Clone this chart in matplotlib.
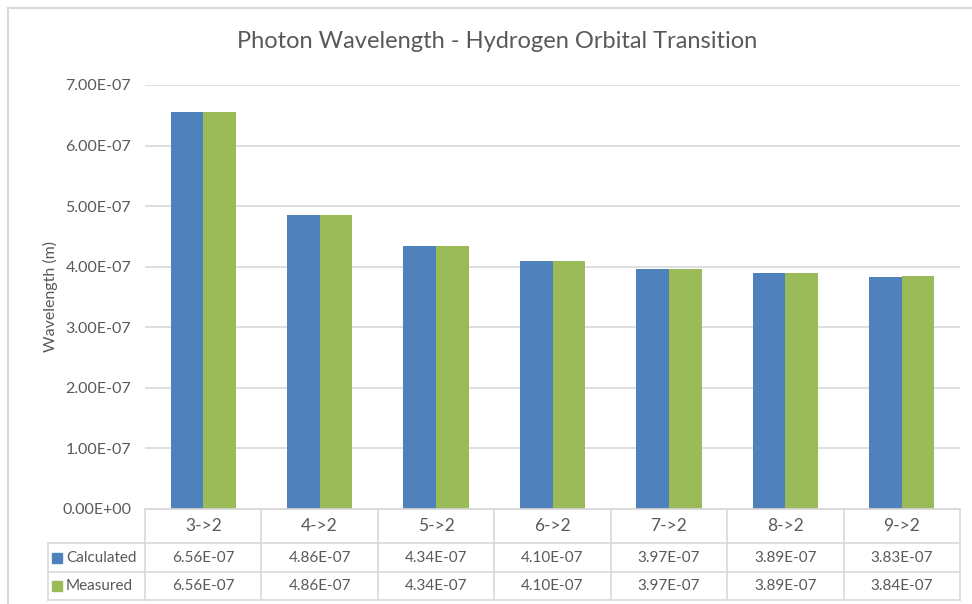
import matplotlib
matplotlib.use('Agg')
import matplotlib.pyplot as plt
import matplotlib.transforms as mtransforms
from matplotlib.lines import Line2D
from matplotlib.patches import Rectangle
import numpy as np

# data
transitions = ['3->2', '4->2', '5->2', '6->2', '7->2', '8->2', '9->2']
calculated = [6.56e-07, 4.86e-07, 4.34e-07, 4.10e-07, 3.97e-07, 3.89e-07, 3.83e-07]
measured = [6.56e-07, 4.86e-07, 4.34e-07, 4.10e-07, 3.97e-07, 3.89e-07, 3.84e-07]
series_names = ['Calculated', 'Measured']
yticks = [0, 1e-07, 2e-07, 3e-07, 4e-07, 5e-07, 6e-07, 7e-07]

c_blue = '#4F81BD'
c_green = '#9BBB59'
c_text = '#595959'
c_line = '#D9D9D9'

plt.rcParams['font.family'] = ['Lato', 'DejaVu Sans']

W, H = 972, 604
fig = plt.figure(figsize=(W / 100, H / 100), dpi=100)
ax = fig.add_axes([145 / W, 1 - 509 / H, (960 - 145) / W, (509 - 85) / H])

x = np.arange(len(transitions))
bw = 0.28
ax.bar(x - bw / 2, calculated, bw, color=c_blue, zorder=3)
ax.bar(x + bw / 2, measured, bw, color=c_green, zorder=3)

ax.set_xlim(-0.5, len(transitions) - 0.5)
ax.set_ylim(0, 7e-07)
ax.set_yticks(yticks)
ax.set_yticklabels(['%.2E' % v for v in yticks], fontsize=11.5, color=c_text)
ax.set_xticks([])
ax.tick_params(axis='y', length=0, pad=10)
ax.yaxis.grid(True, color=c_line, lw=1.2, zorder=0)
for s in ['top', 'right', 'left']:
    ax.spines[s].set_visible(False)
ax.spines['bottom'].set_color(c_line)
ax.spines['bottom'].set_linewidth(1.2)
ax.set_ylabel('Wavelength (m)', fontsize=11.5, color=c_text, labelpad=3)

fig.text(497 / W, 1 - 42 / H, 'Photon Wavelength - Hydrogen Orbital Transition',
         ha='center', va='center', fontsize=17, color=c_text)

# chart border
fig.add_artist(Line2D([8 / W, 8 / W], [1 - 8 / H, 0], transform=fig.transFigure, color=c_line, lw=1.5))
fig.add_artist(Line2D([8 / W, 1], [1 - 8 / H, 1 - 8 / H], transform=fig.transFigure, color=c_line, lw=1.5))

# data table
tr = mtransforms.blended_transform_factory(ax.transData, fig.transFigure)
y_top = 1 - 509 / H
y_r1 = 1 - 543 / H
y_r2 = 1 - 572 / H
y_bot = 1 - 600 / H
x0, x1 = -0.5, len(transitions) - 0.5
xl = 48 / W

def hline(xa, xb, y, t):
    fig.add_artist(Line2D([xa, xb], [y, y], transform=t, color=c_line, lw=1.2))

def vline(xx, ya, yb, t):
    fig.add_artist(Line2D([xx, xx], [ya, yb], transform=t, color=c_line, lw=1.2))

hline(x0, x1, y_top, tr)
for yy in [y_r1, y_r2, y_bot]:
    hline(x0, x1, yy, tr)
    hline(xl, 145 / W, yy, fig.transFigure)
vline(xl, y_r1, y_bot, fig.transFigure)
for i in range(len(transitions) + 1):
    vline(i - 0.5, y_top, y_bot, tr)

for i, lab in enumerate(transitions):
    fig.text(i, (y_top + y_r1) / 2, lab, transform=tr, ha='center', va='center', fontsize=12.5, color=c_text)
    fig.text(i, (y_r1 + y_r2) / 2, '%.2E' % calculated[i], transform=tr, ha='center', va='center', fontsize=11, color=c_text)
    fig.text(i, (y_r2 + y_bot) / 2, '%.2E' % measured[i], transform=tr, ha='center', va='center', fontsize=11, color=c_text)

for name, col, ya, yb in [(series_names[0], c_blue, y_r1, y_r2), (series_names[1], c_green, y_r2, y_bot)]:
    yc = (ya + yb) / 2
    fig.add_artist(Rectangle((52 / W, yc - 5 / H), 10 / W, 10 / H, transform=fig.transFigure, color=col))
    fig.text(66 / W, yc, name, ha='left', va='center', fontsize=11, color=c_text)

fig.savefig('out.png', dpi=100)
